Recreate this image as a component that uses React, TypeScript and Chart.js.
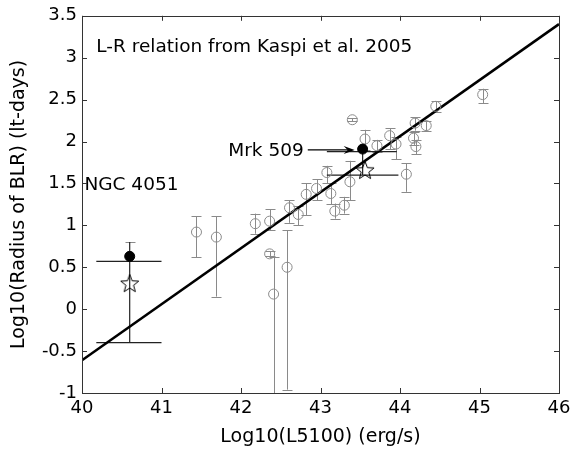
import React, { useEffect, useRef } from "react";
import { Chart, registerables } from "chart.js";

Chart.register(...registerables);

// Kaspi et al. 2005 sample (gray open circles)
const kaspiLogL = [41.44, 41.69, 42.18, 42.36, 42.36, 42.41, 42.58, 42.61, 42.72, 42.82, 42.95, 43.08, 43.13, 43.18, 43.30, 43.37, 43.40, 43.56, 43.71, 43.87, 43.95, 44.08, 44.17, 44.20, 44.19, 44.33, 44.45, 45.04];
const kaspiLogR = [0.92, 0.86, 1.02, 1.05, 0.66, 0.18, 0.50, 1.21, 1.13, 1.37, 1.44, 1.63, 1.38, 1.17, 1.24, 1.52, 2.26, 2.03, 1.95, 2.07, 1.97, 1.61, 2.04, 1.94, 2.22, 2.19, 2.42, 2.56];
const kaspiRLow = [0.62, 0.15, 0.90, 0.94, 0.63, -1.5, -0.96, 1.03, 1.00, 1.12, 1.30, 1.50, 1.25, 1.08, 1.14, 1.30, 2.24, 1.90, 1.88, 1.91, 1.79, 1.40, 1.96, 1.85, 2.13, 2.12, 2.35, 2.46];
const kaspiRHigh = [1.11, 1.11, 1.14, 1.19, 0.69, 0.62, 0.94, 1.30, 1.23, 1.50, 1.55, 1.71, 1.50, 1.26, 1.34, 1.77, 2.28, 2.14, 2.02, 2.16, 2.05, 1.74, 2.11, 2.02, 2.29, 2.25, 2.48, 2.63];

// L-R relation line
const fitLogL = [40, 46];
const fitLogR = [-0.61, 3.4];

// Highlighted objects (filled dots and stars)
const targetNames = ["NGC 4051", "Mrk 509"];
const targetLogL = [40.6, 43.53];
const targetLogR = [0.63, 1.91];
const targetRHigh = [0.8, 1.91];
const starLogL = [40.6, 43.56];
const starLogR = [0.3, 1.65];

// black vertical lines
const vLineX = [40.6, 43.53];
const vLineY0 = [0.8, 1.91];
const vLineY1 = [-0.4, 1.6];
// black horizontal lines
const hLineY = [0.57, -0.4, 1.88, 1.6];
const hLineX0 = [40.18, 40.18, 43.08, 43.08];
const hLineX1 = [41.0, 41.0, 43.96, 43.98];

// x/y ticks
const xTickMin = 40, xTickMax = 46, xTickStep = 1;
const yTickMin = -1, yTickMax = 3.5, yTickStep = 0.5;

const titleText = "L-R relation from Kaspi et al. 2005";
const arrowFrom = { x: 42.84, y: 1.9 };
const arrowTo = { x: 43.43, y: 1.9 };
const labelPos = [
  { text: titleText, x: 40.18, y: 3.12 },
  { text: targetNames[0], x: 40.03, y: 1.48 },
  { text: targetNames[1], x: 41.84, y: 1.89 },
];

const FONT = "'DejaVu Sans', 'Liberation Sans', Arial, sans-serif";
const GRAY = "#8a8a8a";

function makeStar(): HTMLCanvasElement {
  const c = document.createElement("canvas");
  c.width = 22;
  c.height = 22;
  const ctx = c.getContext("2d")!;
  ctx.beginPath();
  for (let i = 0; i < 10; i++) {
    const r = i % 2 === 0 ? 9.5 : 4;
    const a = -Math.PI / 2 + (i * Math.PI) / 5;
    ctx.lineTo(11 + r * Math.cos(a), 11 + r * Math.sin(a));
  }
  ctx.closePath();
  ctx.strokeStyle = "#000";
  ctx.lineWidth = 1;
  ctx.stroke();
  return c;
}

const framePlugin = {
  id: "frame",
  afterDatasetsDraw(chart: any) {
    const { ctx, chartArea: a, scales } = chart;
    ctx.save();
    ctx.strokeStyle = "#333";
    ctx.lineWidth = 1;
    ctx.strokeRect(Math.round(a.left) + 0.5, Math.round(a.top) + 0.5, Math.round(a.right - a.left), Math.round(a.bottom - a.top));
    const tl = 5;
    ctx.beginPath();
    scales.x.ticks.forEach((t: any) => {
      const px = Math.round(scales.x.getPixelForValue(t.value)) + 0.5;
      ctx.moveTo(px, a.bottom);
      ctx.lineTo(px, a.bottom - tl);
      ctx.moveTo(px, a.top);
      ctx.lineTo(px, a.top + tl);
    });
    scales.y.ticks.forEach((t: any) => {
      const py = Math.round(scales.y.getPixelForValue(t.value)) + 0.5;
      ctx.moveTo(a.left, py);
      ctx.lineTo(a.left + tl, py);
      ctx.moveTo(a.right, py);
      ctx.lineTo(a.right - tl, py);
    });
    ctx.stroke();
    ctx.restore();
  },
};

const errorPlugin = {
  id: "errbars",
  beforeDatasetsDraw(chart: any) {
    const { ctx, chartArea: a, scales } = chart;
    const sx = scales.x, sy = scales.y;
    ctx.save();
    ctx.beginPath();
    ctx.rect(a.left, a.top, a.right - a.left, a.bottom - a.top);
    ctx.clip();
    ctx.strokeStyle = GRAY;
    ctx.lineWidth = 1;
    const cap = 5;
    ctx.beginPath();
    for (let i = 0; i < kaspiLogL.length; i++) {
      const x = Math.round(sx.getPixelForValue(kaspiLogL[i])) + 0.5;
      const y0 = sy.getPixelForValue(kaspiRLow[i]);
      const y1 = sy.getPixelForValue(kaspiRHigh[i]);
      ctx.moveTo(x, y0);
      ctx.lineTo(x, y1);
      ctx.moveTo(x - cap, Math.round(y0) + 0.5);
      ctx.lineTo(x + cap, Math.round(y0) + 0.5);
      ctx.moveTo(x - cap, Math.round(y1) + 0.5);
      ctx.lineTo(x + cap, Math.round(y1) + 0.5);
    }
    ctx.stroke();
    // caps on targets
    ctx.beginPath();
    for (let i = 0; i < targetLogL.length; i++) {
      if (targetRHigh[i] === targetLogR[i]) continue;
      const x = Math.round(sx.getPixelForValue(targetLogL[i])) + 0.5;
      const y1 = Math.round(sy.getPixelForValue(targetRHigh[i])) + 0.5;
      ctx.moveTo(x - cap, y1);
      ctx.lineTo(x + cap, y1);
    }
    ctx.stroke();
    // black lines
    ctx.strokeStyle = "#222";
    ctx.lineWidth = 1.2;
    ctx.beginPath();
    for (let i = 0; i < vLineX.length; i++) {
      const x = sx.getPixelForValue(vLineX[i]);
      ctx.moveTo(x, sy.getPixelForValue(vLineY0[i]));
      ctx.lineTo(x, sy.getPixelForValue(vLineY1[i]));
    }
    for (let i = 0; i < hLineY.length; i++) {
      const y = sy.getPixelForValue(hLineY[i]);
      ctx.moveTo(sx.getPixelForValue(hLineX0[i]), y);
      ctx.lineTo(sx.getPixelForValue(hLineX1[i]), y);
    }
    ctx.stroke();
    ctx.restore();
  },
  afterDatasetsDraw(chart: any) {
    const { ctx, scales } = chart;
    const sx = scales.x, sy = scales.y;
    ctx.save();
    // arrow
    const x0 = sx.getPixelForValue(arrowFrom.x), y0 = sy.getPixelForValue(arrowFrom.y);
    const x1 = sx.getPixelForValue(arrowTo.x), y1 = sy.getPixelForValue(arrowTo.y);
    ctx.strokeStyle = "#000";
    ctx.fillStyle = "#000";
    ctx.lineWidth = 1.2;
    ctx.beginPath();
    ctx.moveTo(x0, y0);
    ctx.lineTo(x1 - 6, y1);
    ctx.stroke();
    ctx.beginPath();
    ctx.moveTo(x1, y1);
    ctx.lineTo(x1 - 11, y1 - 4);
    ctx.lineTo(x1 - 7, y1);
    ctx.lineTo(x1 - 11, y1 + 4);
    ctx.closePath();
    ctx.fill();
    // texts
    ctx.font = `18.5px ${FONT}`;
    ctx.textAlign = "left";
    ctx.textBaseline = "middle";
    labelPos.forEach((l) => {
      ctx.fillText(l.text, sx.getPixelForValue(l.x), sy.getPixelForValue(l.y));
    });
    ctx.restore();
  },
};

export default function App() {
  const ref = useRef<HTMLCanvasElement>(null);
  useEffect(() => {
    document.body.style.margin = "0";
    const star = makeStar();
    const tickFont = { family: FONT, size: 18 };
    const fmt = (v: any) => String(Math.round(Number(v) * 100) / 100);
    const chart = new Chart(ref.current!, {
      type: "scatter",
      data: {
        datasets: [
          {
            label: "targets",
            data: targetLogL.map((x, i) => ({ x, y: targetLogR[i] })),
            pointStyle: "circle",
            pointRadius: 5,
            backgroundColor: "#000",
            borderColor: "#000",
            borderWidth: 1,
            order: 0,
          },
          {
            label: "stars",
            data: starLogL.map((x, i) => ({ x, y: starLogR[i] })),
            pointStyle: star as any,
            pointRadius: 10,
            order: 1,
          },
          {
            label: "Kaspi",
            data: kaspiLogL.map((x, i) => ({ x, y: kaspiLogR[i] })),
            pointStyle: "circle",
            pointRadius: 5,
            backgroundColor: "rgba(0,0,0,0)",
            borderColor: GRAY,
            borderWidth: 1,
            order: 2,
          },
          {
            type: "line",
            label: "fit",
            data: fitLogL.map((x, i) => ({ x, y: fitLogR[i] })),
            borderColor: "#000",
            borderWidth: 2.6,
            pointRadius: 0,
            showLine: true,
            fill: false,
            order: 3,
          } as any,
        ],
      },
      options: {
        responsive: false,
        animation: false,
        devicePixelRatio: 1,
        layout: { padding: { left: 0, right: 17, top: 15, bottom: 0 } },
        plugins: { legend: { display: false }, tooltip: { enabled: false } },
        scales: {
          x: {
            type: "linear",
            min: xTickMin,
            max: xTickMax,
            ticks: { stepSize: xTickStep, font: tickFont, color: "#000", padding: 5, callback: fmt },
            grid: { display: false, drawTicks: false },
            border: { display: false },
            title: {
              display: true,
              text: "Log10(L5100) (erg/s)",
              font: { family: FONT, size: 19 },
              color: "#000",
              padding: { top: 0, bottom: 1 },
            },
            afterFit: (s: any) => {
              s.height = 56;
            },
          },
          y: {
            type: "linear",
            min: yTickMin,
            max: yTickMax,
            ticks: { stepSize: yTickStep, font: tickFont, color: "#000", padding: 5, callback: fmt },
            grid: { display: false, drawTicks: false },
            border: { display: false },
            title: {
              display: true,
              text: "Log10(Radius of BLR) (lt-days)",
              font: { family: FONT, size: 19 },
              color: "#000",
              padding: { top: 8, bottom: 0 },
            },
            afterFit: (s: any) => {
              s.width = 82;
            },
          },
        },
      },
      plugins: [errorPlugin, framePlugin],
    } as any);
    return () => chart.destroy();
  }, []);
  return <canvas ref={ref} width={576} height={449} style={{ display: "block" }} />;
}
